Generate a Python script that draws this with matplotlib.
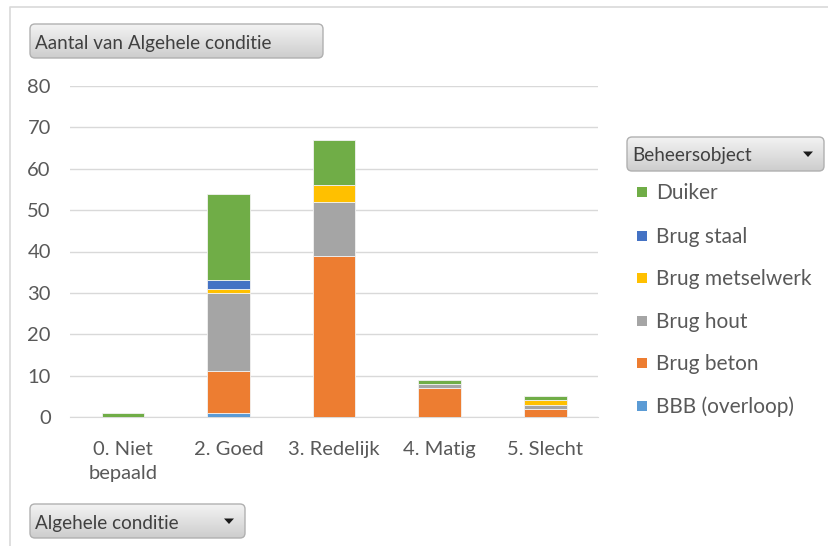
import numpy as np
import matplotlib
matplotlib.use("Agg")
import matplotlib.pyplot as plt
from matplotlib.patches import FancyBboxPatch, Rectangle, Polygon
from matplotlib.colors import LinearSegmentedColormap

plt.rcParams['font.family'] = ['Lato', 'DejaVu Sans']

categories = ["0. Niet\nbepaald", "2. Goed", "3. Redelijk", "4. Matig", "5. Slecht"]
series_names = ["BBB (overloop)", "Brug beton", "Brug hout", "Brug metselwerk", "Brug staal", "Duiker"]
bbb = [0, 1, 0, 0, 0]
beton = [0, 10, 39, 7, 2]
hout = [0, 19, 13, 1, 1]
metselwerk = [0, 1, 4, 0, 1]
staal = [0, 2, 0, 0, 0]
duiker = [1, 21, 11, 1, 1]
colors = ["#5B9BD5", "#ED7D31", "#A5A5A5", "#FFC000", "#4472C4", "#70AD47"]
yticks = [0, 10, 20, 30, 40, 50, 60, 70, 80]

W, H = 829, 546
fig = plt.figure(figsize=(W / 100, H / 100), dpi=100)
fig.patch.set_facecolor("white")

# chart area
ax = fig.add_axes([70.3 / W, 1 - 417 / H, (598 - 70.3) / W, (417 - 86) / H])
x = np.arange(len(categories))
bottom = np.zeros(len(categories))
for name, vals, c in zip(series_names, [bbb, beton, hout, metselwerk, staal, duiker], colors):
    v = np.array(vals, dtype=float)
    ax.bar(x, v, 0.404, bottom=bottom, color=c, edgecolor="#F2F2F2", linewidth=0.6, zorder=3)
    bottom += v
ax.set_xlim(-0.5, len(categories) - 0.5)
ax.set_ylim(0, 80)
ax.set_yticks(yticks)
ax.set_xticks(x)
ax.set_xticklabels(categories, linespacing=1.55)
ax.grid(axis="y", color="#D9D9D9", linewidth=1.0, zorder=0)
for s in ["top", "right", "left"]:
    ax.spines[s].set_visible(False)
ax.spines["bottom"].set_color("#D9D9D9")
ax.tick_params(axis="both", length=0, labelsize=14.5, labelcolor="#595959")
ax.tick_params(axis="y", pad=14)
ax.tick_params(axis="x", pad=17)
for lbl in ax.get_xticklabels():
    lbl.set_verticalalignment("top")

# overlay in pixel coordinates
ov = fig.add_axes([0, 0, 1, 1], zorder=5)
ov.set_xlim(0, W)
ov.set_ylim(H, 0)
ov.axis("off")
ov.patch.set_alpha(0)

# outer chart border
ov.plot([10, 10, W], [H, 7, 7], color="#D9D9D9", linewidth=1.2)

grad = np.linspace(0, 1, 64).reshape(-1, 1)
cmap = LinearSegmentedColormap.from_list("btn", ["#F3F3F3", "#CDCDCD"])

def button(x0, y0, x1, y1, text, arrow=False):
    p = FancyBboxPatch((x0, y0), x1 - x0, y1 - y0, boxstyle="round,pad=0,rounding_size=5",
                       facecolor="none", edgecolor="#B0B0B0", linewidth=1.0, zorder=6)
    ov.add_patch(p)
    im = ov.imshow(grad, extent=(x0, x1, y1, y0), cmap=cmap, aspect="auto", zorder=5)
    im.set_clip_path(p)
    ov.text(x0 + 5, (y0 + y1) / 2 + 2, text, fontsize=13.6, color="#404040", va="center", ha="left", zorder=7)
    if arrow:
        ax_ = x1 - 16
        ay = (y0 + y1) / 2
        ov.add_patch(Polygon([[ax_ - 5, ay - 2.5], [ax_ + 5, ay - 2.5], [ax_, ay + 3]], closed=True,
                             facecolor="#1A1A1A", edgecolor="none", zorder=7))

button(30, 24, 323, 58, "Aantal van Algehele conditie")
button(30, 504, 245, 538, "Algehele conditie", arrow=True)
button(627, 137, 824, 171, "Beheersobject", arrow=True)

# legend (top entry = last series)
y_positions = [192, 236, 278, 321, 363, 406]
for (name, c), yy in zip(list(zip(series_names, colors))[::-1], y_positions):
    ov.add_patch(Rectangle((637, yy - 5), 10, 10, facecolor=c, edgecolor="none", zorder=6))
    ov.text(656, yy + 1, name, fontsize=15, color="#595959", va="center", ha="left", zorder=7)

fig.savefig("out.png", dpi=100)
